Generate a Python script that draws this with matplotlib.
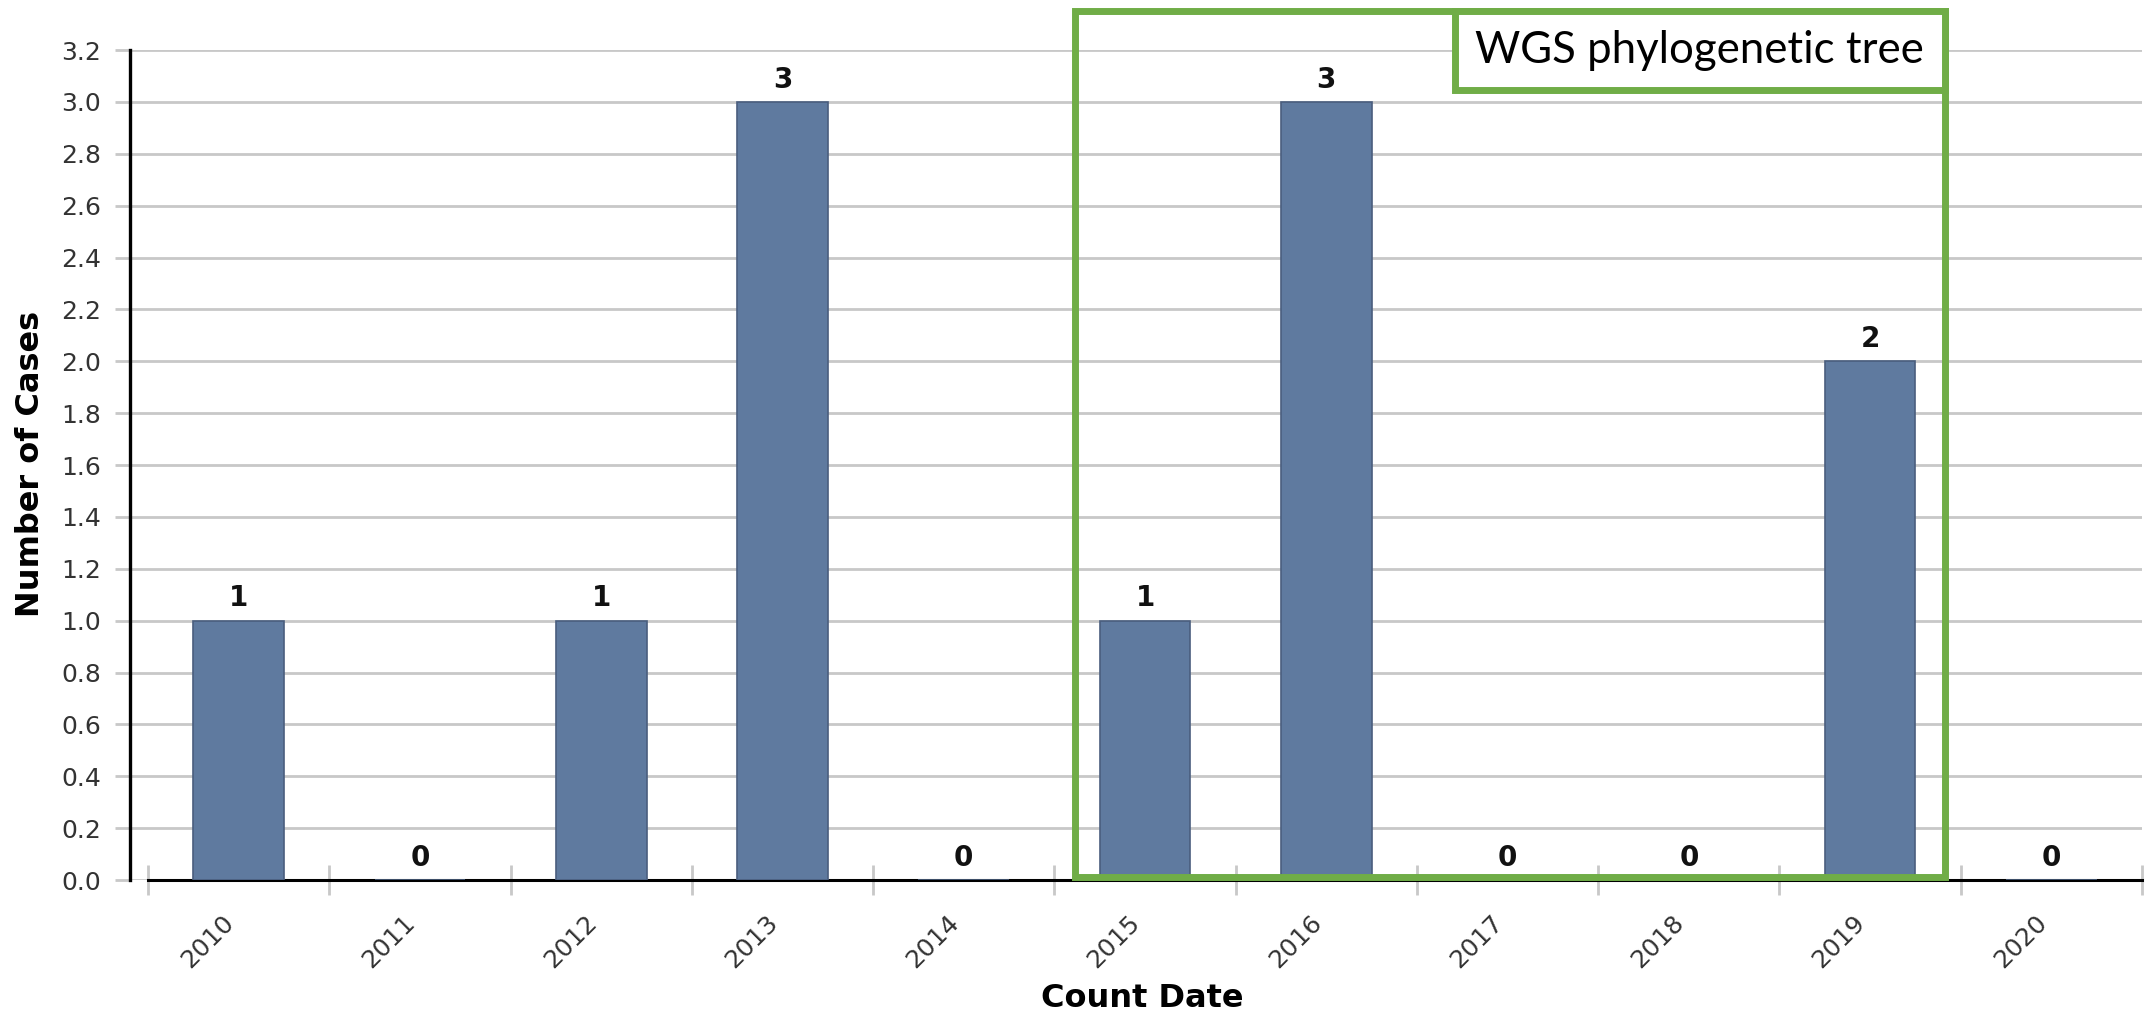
import numpy as np
import matplotlib
matplotlib.use("Agg")
import matplotlib.pyplot as plt
from matplotlib.patches import Rectangle

# Daten
years = ["2010", "2011", "2012", "2013", "2014", "2015",
         "2016", "2017", "2018", "2019", "2020"]
cases = [1, 0, 1, 3, 0, 1, 3, 0, 0, 2, 0]
y_ticks = [0.0, 0.2, 0.4, 0.6, 0.8, 1.0, 1.2, 1.4, 1.6,
           1.8, 2.0, 2.2, 2.4, 2.6, 2.8, 3.0, 3.2]
box_label = "WGS phylogenetic tree"

bar_color = "#5f7a9f"
green = "#70ad47"
grid_color = "#c8c8c8"


def plot() -> None:
    """Balkendiagramm der Fallzahlen mit markiertem WGS-Bereich."""
    fig = plt.figure(figsize=(21.48, 10.15), dpi=100)
    ax = fig.add_axes([0.0605, 0.133, 0.9367, 0.8177])

    x = np.arange(len(years))

    # Balken
    bars = ax.bar(x, cases, width=0.5, color=bar_color,
                  edgecolor="#4a5e7e", linewidth=1.2, zorder=3)
    ax.bar_label(bars, labels=[str(v) for v in cases], padding=6,
                 fontsize=20, fontweight="bold", color="#111111")

    # Achsen formatieren
    ax.set_xlim(-0.6, 10.5)
    ax.set_ylim(0, 3.2)
    ax.set_yticks(y_ticks)
    ax.set_yticklabels(["%.1f" % v for v in y_ticks])
    ax.yaxis.grid(True, color=grid_color, linewidth=2)
    ax.set_axisbelow(True)

    # Ticks an Kategoriegrenzen, Beschriftung in der Mitte
    ax.set_xticks(np.arange(-0.5, len(years), 1.0))
    ax.set_xticklabels([])
    ax.set_xticks(x, minor=True)
    ax.set_xticklabels(years, minor=True, rotation=45, ha="right",
                       fontsize=18, color="#333333")
    ax.tick_params(axis="x", which="major", direction="inout", length=22,
                   width=2, color=grid_color)
    ax.tick_params(axis="x", which="minor", length=0, pad=22)
    ax.tick_params(axis="y", length=11, width=2, color=grid_color, pad=10,
                   labelsize=18, labelcolor="#333333")

    for side in ["top", "right"]:
        ax.spines[side].set_visible(False)
    ax.spines["left"].set_linewidth(2.4)
    ax.spines["bottom"].set_linewidth(2.2)
    ax.spines["bottom"].set_bounds(-0.5, 10.5)

    # Achsenbeschriftung
    fig.text(0.014, 0.543, "Number of Cases", rotation=90, ha="center",
             va="center", fontsize=23, fontweight="bold")
    fig.text(0.532, 0.016, "Count Date", ha="center", va="center",
             fontsize=23, fontweight="bold")

    # Gruener Rahmen um 2015-2019
    ax.add_patch(Rectangle((4.614, 0.012), 9.413 - 4.614, 3.351 - 0.012,
                           fill=False, edgecolor=green, linewidth=5,
                           clip_on=False, zorder=5))
    ax.add_patch(Rectangle((6.71, 3.047), 9.413 - 6.71, 3.351 - 3.047,
                           facecolor="white", edgecolor=green, linewidth=5,
                           clip_on=False, zorder=6))
    ax.text(8.06, 3.2, box_label, ha="center", va="center", fontsize=31.5,
            family="Lato", zorder=7, clip_on=False)

    fig.savefig("out.png", dpi=100)


plot()
